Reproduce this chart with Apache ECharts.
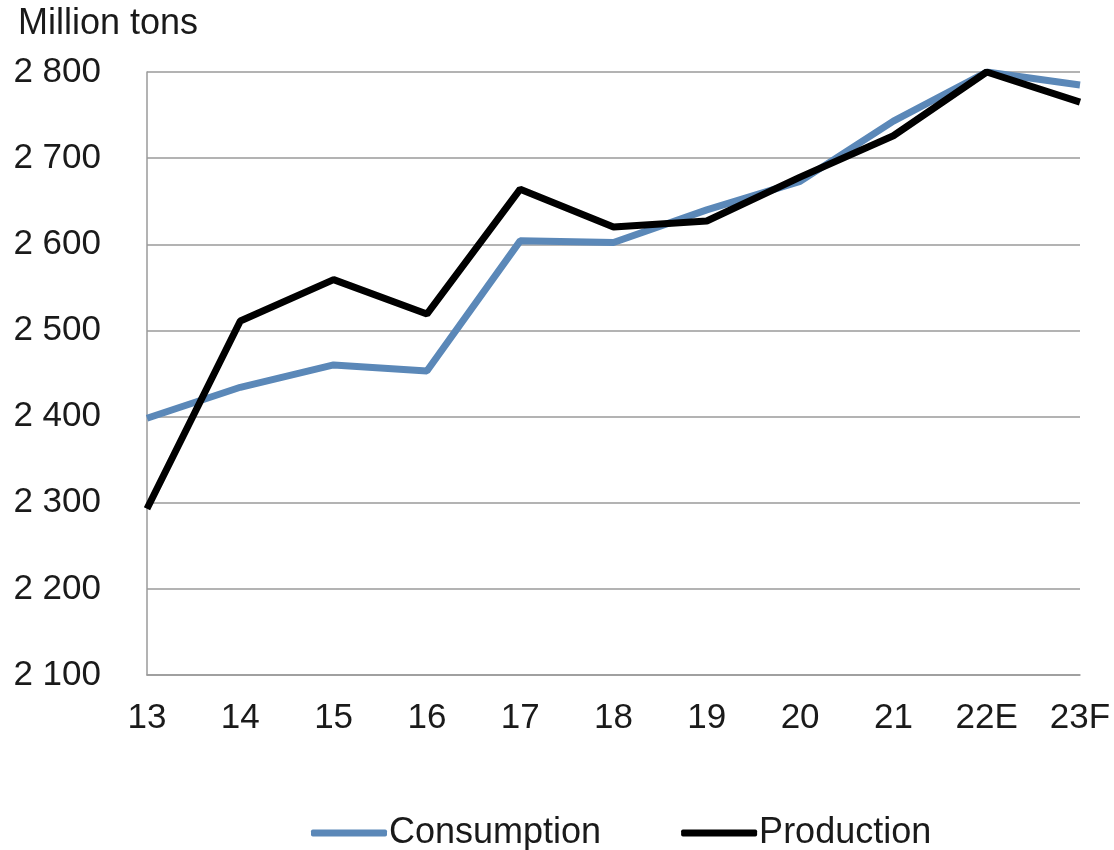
<!DOCTYPE html>
<html>
<head>
<meta charset="utf-8">
<script src="https://cdn.jsdelivr.net/npm/echarts@6/dist/echarts.min.js"></script>
<style>
html,body{margin:0;padding:0;background:#fff;}
#chart{width:1114px;height:850px;}
</style>
</head>
<body>
<div id="chart"></div>
<script>
const categories = ['13','14','15','16','17','18','19','20','21','22E','23F'];
const consumption = [2398, 2434, 2460, 2453, 2604, 2602, 2640, 2673, 2743, 2800, 2785];
const production  = [2293, 2511, 2559, 2519, 2664, 2620, 2627, 2678, 2726, 2800, 2765];
const yTicks = { min: 2100, max: 2800, interval: 100 };

const font = '"Liberation Sans", Arial, sans-serif';
const chart = echarts.init(document.getElementById('chart'));
chart.setOption({
  animation: false,
  backgroundColor: '#fff',
  title: {
    text: 'Million tons',
    left: 13, top: 1,
    textStyle: { fontFamily: font, fontSize: 36, fontWeight: 'normal', color: '#1a1a1a' }
  },
  grid: { left: 147, right: 34, top: 72, bottom: 175, containLabel: false },
  xAxis: {
    type: 'category',
    data: categories,
    boundaryGap: false,
    axisLine: { lineStyle: { color: '#9a9a9a', width: 1.5 } },
    axisTick: { show: false },
    axisLabel: { fontFamily: font, fontSize: 35, color: '#1a1a1a', margin: 26 },
    splitLine: { show: false }
  },
  yAxis: {
    type: 'value',
    min: yTicks.min, max: yTicks.max, interval: yTicks.interval,
    axisLine: { show: true, lineStyle: { color: '#9a9a9a', width: 1.5 } },
    axisTick: { show: false },
    axisLabel: {
      fontFamily: font, fontSize: 35, color: '#1a1a1a', margin: 46,
      formatter: v => String(v).replace(/\B(?=(\d{3})+(?!\d))/g, ' ')
    },
    splitLine: { lineStyle: { color: '#9a9a9a', width: 1.5 } }
  },
  legend: {
    top: 810, left: 306,
    itemWidth: 76, itemHeight: 7, itemGap: 80,
    icon: 'roundRect',
    textStyle: { fontFamily: font, fontSize: 36, color: '#1a1a1a', padding: [0, 0, 0, -3] },
    data: ['Consumption', 'Production']
  },
  series: [
    {
      name: 'Consumption', type: 'line', data: consumption,
      showSymbol: false, symbol: 'none',
      lineStyle: { color: '#5b88b8', width: 7 },
      itemStyle: { color: '#5b88b8' }
    },
    {
      name: 'Production', type: 'line', data: production,
      showSymbol: false, symbol: 'none',
      lineStyle: { color: '#000000', width: 7 },
      itemStyle: { color: '#000000' }
    }
  ]
});
</script>
</body>
</html>
